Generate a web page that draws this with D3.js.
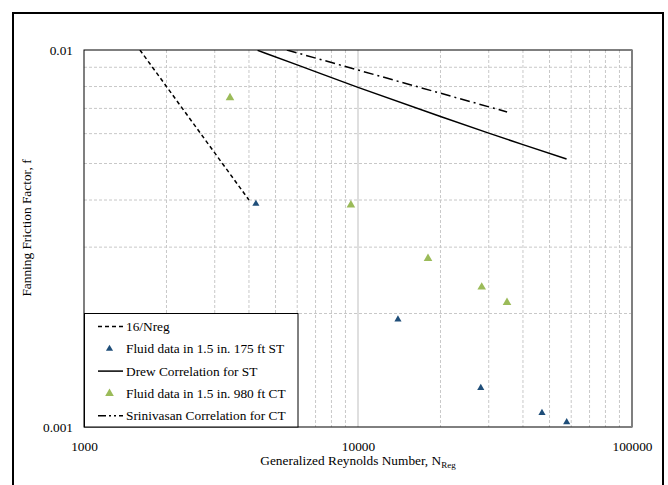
<!DOCTYPE html>
<html><head><meta charset="utf-8">
<script src="https://cdn.jsdelivr.net/npm/d3@7"></script>
<style>body{margin:0;background:#fff}svg{display:block}svg text{font-family:"Liberation Serif","Times New Roman","DejaVu Serif",serif !important;fill:#000}</style>
</head><body><div id="c"></div>
<script>
// Data
const xTickLabels = ["1000", "10000", "100000"];
const yTickLabels = ["0.001", "0.01"];
const xTicks = [1000, 10000, 100000];
const yTicks = [0.001, 0.01];
const lamX = [1600, 4000];
const lamY = [0.01, 0.004];
const stX = [4240, 13990, 28060, 46930, 57760];
const stY = [0.00391, 0.00193, 0.00127, 0.00109, 0.00103];
const drewX = [4300, 6000, 10000, 20000, 30000, 40000, 57700];
const drewY = [0.00998, 0.00913, 0.00796, 0.00666, 0.00602, 0.00561, 0.00514];
const ctX = [3410, 9420, 18010, 28280, 34980];
const ctY = [0.00747, 0.00388, 0.00280, 0.00235, 0.00214];
const sriX = [5500, 35000];
const sriY = [0.0100, 0.00685];
const legendLabels = ["16/Nreg", "Fluid data in 1.5 in. 175 ft ST", "Drew Correlation for ST", "Fluid data in 1.5 in. 980 ft CT", "Srinivasan Correlation for CT"];

const FONT = '"Liberation Serif","Times New Roman","DejaVu Serif",serif';
const W = 668, H = 485;
const L = 84, R = 632, T = 50, B = 427;
const svg = d3.select("#c").append("svg").attr("width", W).attr("height", H)
  .attr("font-family", FONT);

// outer frame (no bottom edge visible)
svg.append("path").attr("d", `M13,${H+2}V13H663V${H+2}`).attr("fill","none").attr("stroke","#000").attr("stroke-width",2);

const x = d3.scaleLog().domain([1000, 100000]).range([L, R]);
const y = d3.scaleLog().domain([0.001, 0.01]).range([B, T]);

const g = svg.append("g");
// grid
const xMinor = [];
[1000, 10000].forEach(d => { for (let k = 2; k <= 9; k++) xMinor.push(d * k); });
const yMinor = [];
for (let k = 2; k <= 9; k++) yMinor.push(0.001 * k);
g.selectAll(".vx").data(xMinor).enter().append("line")
  .attr("x1", d => x(d)).attr("x2", d => x(d)).attr("y1", T).attr("y2", B)
  .attr("stroke", "#c8c8c8").attr("stroke-width", 1).attr("stroke-dasharray", "3,2");
g.selectAll(".hy").data(yMinor).enter().append("line")
  .attr("y1", d => y(d)).attr("y2", d => y(d)).attr("x1", L).attr("x2", R)
  .attr("stroke", "#c8c8c8").attr("stroke-width", 1).attr("stroke-dasharray", "3,2");
g.append("line").attr("x1", x(10000)).attr("x2", x(10000)).attr("y1", T).attr("y2", B)
  .attr("stroke", "#bfbfbf").attr("stroke-width", 1);

// plot border
g.append("rect").attr("x", L).attr("y", T).attr("width", R - L).attr("height", B - T)
  .attr("fill", "none").attr("stroke", "#000").attr("stroke-width", 1);
g.append("line").attr("x1", R).attr("x2", R).attr("y1", T).attr("y2", B).attr("stroke", "#7f7f7f").attr("stroke-width", 2);

// axes labels via d3 axes
const xAxis = d3.axisBottom(x).tickValues(xTicks).tickFormat((d, i) => xTickLabels[i]).tickSize(0).tickPadding(15);
const yAxis = d3.axisLeft(y).tickValues(yTicks).tickFormat((d, i) => yTickLabels[i]).tickSize(0).tickPadding(11);
const gx = svg.append("g").attr("transform", `translate(0,${B})`).call(xAxis);
const gy = svg.append("g").attr("transform", `translate(${L},0)`).call(yAxis);
[gx, gy].forEach(a => {
  a.attr("font-family", FONT).attr("font-size", 13.33);
  a.select(".domain").remove();
  a.selectAll("text").attr("fill", "#000");
});

// lines
const line = d3.line().x(d => x(d[0])).y(d => y(d[1]));
svg.append("clipPath").attr("id", "cp").append("rect").attr("x", L).attr("y", T).attr("width", R - L).attr("height", B - T);
const pg = svg.append("g").attr("clip-path", "url(#cp)");
pg.append("path").datum(d3.zip(lamX, lamY)).attr("d", line).attr("fill", "none").attr("stroke", "#000").attr("stroke-width", 1.5).attr("stroke-dasharray", "4,3");
pg.append("path").datum(d3.zip(drewX, drewY)).attr("d", d3.line().curve(d3.curveMonotoneX).x(d => x(d[0])).y(d => y(d[1]))).attr("fill", "none").attr("stroke", "#000").attr("stroke-width", 1.5);
pg.append("path").datum(d3.zip(sriX, sriY)).attr("d", line).attr("fill", "none").attr("stroke", "#000").attr("stroke-width", 1.5).attr("stroke-dasharray", "10,4,2,4");

const tri = s => d3.symbol().type(d3.symbolTriangle).size(s)();
svg.selectAll(".st").data(d3.zip(stX, stY)).enter().append("path")
  .attr("d", tri(22)).attr("transform", d => `translate(${x(d[0])},${y(d[1])})`).attr("fill", "#1f4e79");
svg.selectAll(".ct").data(d3.zip(ctX, ctY)).enter().append("path")
  .attr("d", tri(32)).attr("transform", d => `translate(${x(d[0])},${y(d[1])})`).attr("fill", "#9bbb59");

// legend
const lg = svg.append("g").attr("font-family", FONT).attr("font-size", 13.33);
lg.append("rect").attr("x", L + 0.5).attr("y", 313.5).attr("width", 213.5).attr("height", B - 313.5).attr("fill", "#fff").attr("stroke", "#000").attr("stroke-width", 1);
const ly0 = 326.5, ldy = 22.3;
legendLabels.forEach((t, i) => {
  const yy = ly0 + i * ldy;
  if (i === 0) lg.append("line").attr("x1", 98).attr("x2", 123).attr("y1", yy).attr("y2", yy).attr("stroke", "#000").attr("stroke-width", 1.5).attr("stroke-dasharray", "4,3");
  if (i === 2) lg.append("line").attr("x1", 98).attr("x2", 123).attr("y1", yy).attr("y2", yy).attr("stroke", "#000").attr("stroke-width", 1.5);
  if (i === 4) lg.append("line").attr("x1", 98).attr("x2", 123).attr("y1", yy).attr("y2", yy).attr("stroke", "#000").attr("stroke-width", 1.5).attr("stroke-dasharray", "8,3,2,3,2,3");
  if (i === 1) lg.append("path").attr("d", tri(22)).attr("transform", `translate(109.5,${yy})`).attr("fill", "#1f4e79");
  if (i === 3) lg.append("path").attr("d", tri(32)).attr("transform", `translate(109.5,${yy})`).attr("fill", "#9bbb59");
  lg.append("text").attr("x", 126).attr("y", yy).attr("dy", "0.35em").text(t);
});

// axis titles
const xt = svg.append("text").attr("x", 358).attr("y", 465).attr("text-anchor", "middle").attr("font-size", 13.33);
xt.append("tspan").text("Generalized Reynolds Number, N");
xt.append("tspan").attr("dy", 3).attr("font-size", 9).text("Reg");
svg.append("text").attr("transform", "translate(31,228) rotate(-90)").attr("text-anchor", "middle").attr("font-size", 13.33).text("Fanning Friction Factor, f");
</script></body></html>
